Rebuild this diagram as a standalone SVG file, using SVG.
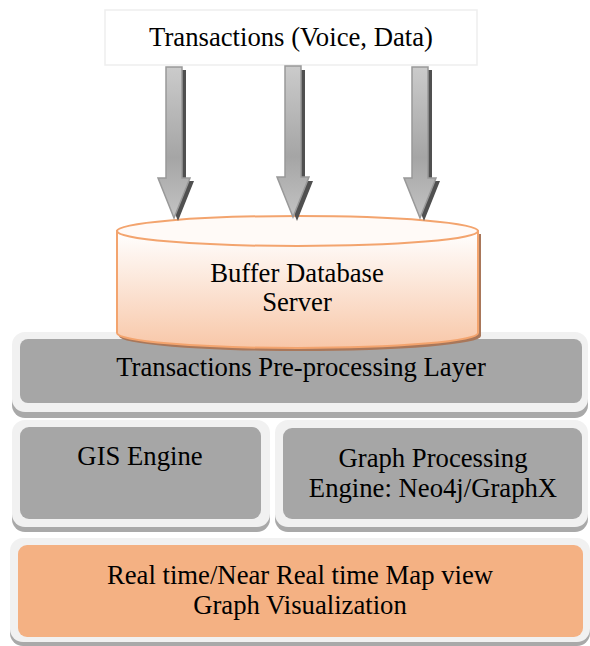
<svg xmlns="http://www.w3.org/2000/svg" width="590" height="646" viewBox="0 0 590 646">
  <style>
    text { font-family: "Liberation Serif", "Times New Roman", serif; font-size: 26.7px; fill: #000; text-anchor: middle; }
    .frame { fill: #f1f1f1; }
    .frame-shadow { fill: #a9a9a9; }
    .gray { fill: #a6a6a6; }
    .orange { fill: #f4b183; }
  </style>
  <defs>
    <linearGradient id="arrowFill" x1="0" y1="0" x2="0" y2="1">
      <stop offset="0" stop-color="#cbcbcb"/>
      <stop offset="0.6" stop-color="#a5a5a5"/>
      <stop offset="1" stop-color="#c3c3c3"/>
    </linearGradient>
    <linearGradient id="cylBody" x1="0" y1="0" x2="0" y2="1">
      <stop offset="0" stop-color="#ffffff"/>
      <stop offset="1" stop-color="#f8c7a8"/>
    </linearGradient>
    <path id="arrowShape" d="M-8,0 L8,0 L8,111 L16,111 L0,151 L-16,111 L-8,111 Z"/>
  </defs>

  <!-- source box -->
  <g id="transactions">
    <rect x="105" y="10" width="372" height="55" fill="#ffffff" stroke="#eeeeee" stroke-width="1.5"/>
    <text x="291" y="46">Transactions (Voice, Data)</text>
  </g>

  <!-- pre-processing layer -->
  <g id="preprocessing">
    <rect class="frame-shadow" x="12" y="338" width="576" height="80" rx="13"/>
    <rect class="frame" x="12" y="332" width="576" height="80" rx="13"/>
    <rect class="gray" x="20" y="339" width="562" height="64" rx="8"/>
    <text x="301" y="376">Transactions Pre-processing Layer</text>
  </g>

  <!-- buffer database cylinder -->
  <g id="buffer-db">
    <path d="M119,234 L119,336 A180.5,15 0 0 0 481,336 L481,234 Z" fill="#a9775a"/>
    <path d="M117,231 L117,333 A180.5,15 0 0 0 478,333 L478,231 Z" fill="url(#cylBody)" stroke="#f3a46e" stroke-width="2"/>
    <ellipse cx="297.5" cy="231" rx="180.5" ry="15" fill="#fffaf7" stroke="#f3a46e" stroke-width="2"/>
    <text x="297" y="282">Buffer Database</text>
    <text x="297" y="311">Server</text>
  </g>

  <!-- GIS engine -->
  <g id="gis-engine">
    <rect class="frame-shadow" x="12" y="425" width="258" height="107" rx="13"/>
    <rect class="frame" x="12" y="420" width="258" height="107" rx="13"/>
    <rect class="gray" x="20" y="427" width="241" height="92" rx="9"/>
    <text x="140" y="465">GIS Engine</text>
  </g>

  <!-- graph processing engine -->
  <g id="graph-engine">
    <rect class="frame-shadow" x="275" y="425" width="313" height="107" rx="13"/>
    <rect class="frame" x="275" y="420" width="313" height="107" rx="13"/>
    <rect class="gray" x="283" y="428" width="299" height="91" rx="9"/>
    <text x="433" y="467">Graph Processing</text>
    <text x="433" y="497">Engine: Neo4j/GraphX</text>
  </g>

  <!-- visualization layer -->
  <g id="visualization">
    <rect class="frame-shadow" x="10" y="543" width="580" height="103" rx="13"/>
    <rect class="frame" x="10" y="538" width="580" height="104" rx="13"/>
    <rect class="orange" x="18" y="545" width="565" height="92" rx="9"/>
    <text x="300" y="584">Real time/Near Real time Map view</text>
    <text x="300" y="614">Graph Visualization</text>
  </g>

  <!-- flow arrows into the buffer database -->
  <g id="connectors">
    <use href="#arrowShape" transform="translate(178,70)" fill="#505050"/>
    <use href="#arrowShape" transform="translate(174,67)" fill="url(#arrowFill)" stroke="#999999" stroke-width="1.5"/>
    <use href="#arrowShape" transform="translate(297,70)" fill="#505050"/>
    <use href="#arrowShape" transform="translate(293,66)" fill="url(#arrowFill)" stroke="#999999" stroke-width="1.5"/>
    <use href="#arrowShape" transform="translate(424,70)" fill="#505050"/>
    <use href="#arrowShape" transform="translate(420,67)" fill="url(#arrowFill)" stroke="#999999" stroke-width="1.5"/>
  </g>
</svg>
